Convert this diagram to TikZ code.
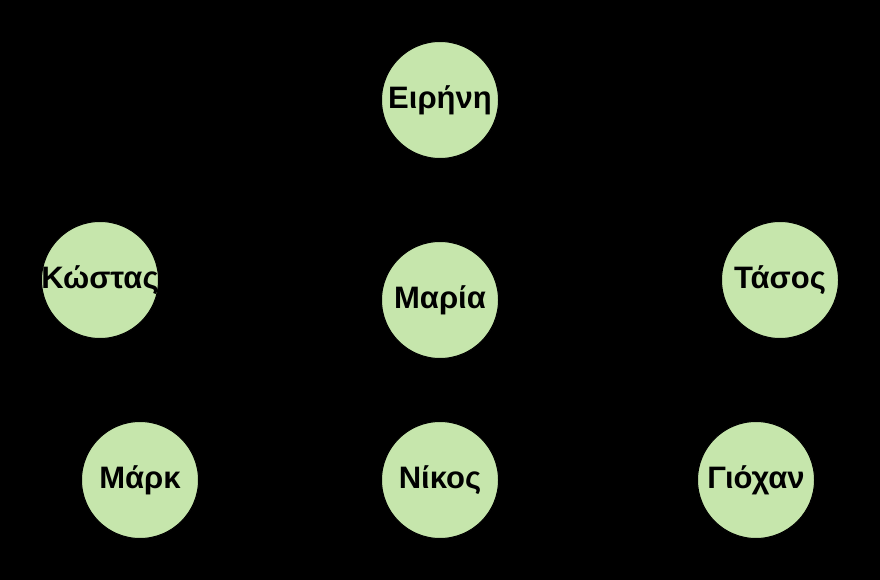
\documentclass[tikz,border=0pt]{standalone}
\usepackage{fontspec}
\setmainfont{Liberation Sans}
\definecolor{nodegreen}{RGB}{198,230,172}
\newcommand{\fixedlabel}[1]{\makebox[0pt]{#1}}
\begin{document}
\begin{tikzpicture}[x=1pt,y=-1pt,
  person/.style={circle,fill=nodegreen,draw=black,line width=1pt,minimum size=117pt,inner sep=0pt,
    font=\fontsize{31}{36}\selectfont\bfseries,text=black}]
\fill[black] (0,0) rectangle (880,580);
\useasboundingbox (0,0) rectangle (880,580);
\node[person] (eirini) at (440,100) {\fixedlabel{Ειρήνη}};
\node[person] (kostas) at (100,280) {\fixedlabel{Κώστας}};
\node[person] (maria) at (440,300) {\fixedlabel{Μαρία}};
\node[person] (tasos) at (780,280) {\fixedlabel{Τάσος}};
\node[person] (mark) at (140,480) {\fixedlabel{Μάρκ}};
\node[person] (nikos) at (440,480) {\fixedlabel{Νίκος}};
\node[person] (giochan) at (756,480) {\fixedlabel{Γιόχαν}};
\end{tikzpicture}
\end{document}
